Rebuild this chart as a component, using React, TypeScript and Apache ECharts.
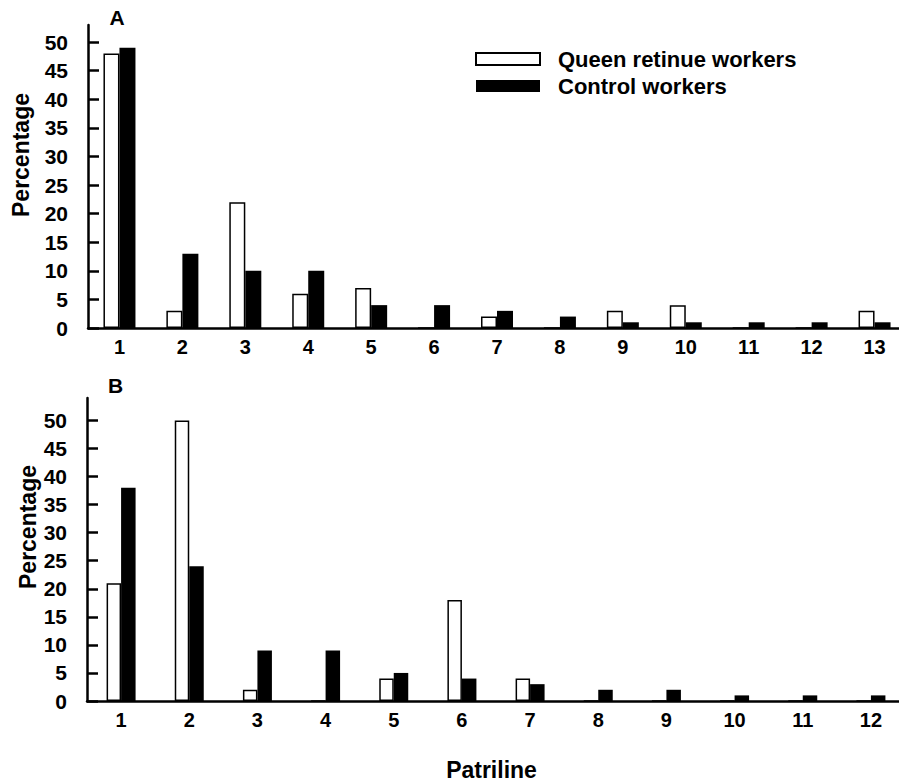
import React, { useEffect, useRef } from "react";
import * as echarts from "echarts";

const categoriesA = ["1", "2", "3", "4", "5", "6", "7", "8", "9", "10", "11", "12", "13"];
const queenA = [48, 3, 22, 6, 7, 0, 2, 0, 3, 4, 0, 0, 3];
const controlA = [49, 13, 10, 10, 4, 4, 3, 2, 1, 1, 1, 1, 1];

const categoriesB = ["1", "2", "3", "4", "5", "6", "7", "8", "9", "10", "11", "12"];
const queenB = [21, 50, 2, 0, 4, 18, 4, 0, 0, 0, 0, 0];
const controlB = [38, 24, 9, 9, 5, 4, 3, 2, 2, 1, 1, 1];

const yTickValues = [0, 5, 10, 15, 20, 25, 30, 35, 40, 45, 50];

const seriesNames = ["Queen retinue workers", "Control workers"];
const panelLabels = ["A", "B"];
const yTitle = "Percentage";
const xTitle = "Patriline";

const FONT = "Liberation Sans, Arial, Helvetica, sans-serif";

export default function App() {
  const ref = useRef<HTMLDivElement>(null);

  useEffect(() => {
    if (!ref.current) return;
    const chart = echarts.init(ref.current, undefined, { renderer: "svg" });

    const axisLine = { show: true, lineStyle: { color: "#000", width: 2.5 } };

    const mkY = (gridIndex: number, max: number) => ({
      type: "value",
      gridIndex,
      min: 0,
      max,
      splitLine: { show: false },
      axisLine,
      axisTick: {
        show: true,
        inside: true,
        length: 11,
        lineStyle: { color: "#000", width: 2.5 },
        customValues: yTickValues,
      },
      axisLabel: {
        show: true,
        customValues: yTickValues,
        color: "#000",
        fontFamily: FONT,
        fontWeight: "bold",
        fontSize: 21,
        margin: 20,
        padding: [6, 0, 0, 0],
      },
    });

    const mkX = (gridIndex: number, data: string[]) => ({
      type: "category",
      gridIndex,
      data,
      axisLine,
      axisTick: { show: false },
      splitLine: { show: false },
      axisLabel: {
        color: "#000",
        fontFamily: FONT,
        fontWeight: "bold",
        fontSize: 20,
        margin: 9,
        interval: 0,
      },
    });

    const whiteStyle = { color: "#fff", borderColor: "#000", borderWidth: 1.5 };
    const blackStyle = { color: "#000", borderColor: "#000", borderWidth: 0 };

    const txt = (text: string, x: number, y: number, size: number, rotation = 0) => ({
      type: "text",
      x,
      y,
      rotation,
      style: {
        text,
        fill: "#000",
        fontFamily: FONT,
        fontWeight: "bold",
        fontSize: size,
        align: "center",
        verticalAlign: "middle",
      },
    });

    const option: any = {
      animation: false,
      backgroundColor: "#fff",
      textStyle: { fontFamily: FONT },
      grid: [
        { left: 88, top: 25, width: 818, height: 303, outerBoundsMode: "none", containLabel: false },
        { left: 87, top: 398, width: 818, height: 303, outerBoundsMode: "none", containLabel: false },
      ],
      xAxis: [mkX(0, categoriesA), mkX(1, categoriesB)],
      yAxis: [mkY(0, 53), mkY(1, 54)],
      legend: {
        orient: "vertical",
        left: 475,
        top: 48,
        padding: 0,
        icon: "rect",
        itemWidth: 64,
        itemHeight: 12,
        itemGap: 5,
        selectedMode: false,
        data: seriesNames,
        textStyle: {
          color: "#000",
          fontFamily: FONT,
          fontWeight: "bold",
          fontSize: 22,
          padding: [0, 0, 0, 13],
        },
      },
      series: [
        {
          name: seriesNames[0],
          type: "bar",
          xAxisIndex: 0,
          yAxisIndex: 0,
          data: queenA,
          barWidth: 16,
          barGap: "0%",
          itemStyle: whiteStyle,
        },
        {
          name: seriesNames[1],
          type: "bar",
          xAxisIndex: 0,
          yAxisIndex: 0,
          data: controlA,
          barWidth: 16,
          barGap: "0%",
          itemStyle: blackStyle,
        },
        {
          name: seriesNames[0],
          type: "bar",
          xAxisIndex: 1,
          yAxisIndex: 1,
          data: queenB,
          barWidth: 14.5,
          barGap: "0%",
          itemStyle: whiteStyle,
        },
        {
          name: seriesNames[1],
          type: "bar",
          xAxisIndex: 1,
          yAxisIndex: 1,
          data: controlB,
          barWidth: 14.5,
          barGap: "0%",
          itemStyle: blackStyle,
        },
      ],
      graphic: [
        txt(panelLabels[0], 117, 17, 21),
        txt(panelLabels[1], 115.5, 385, 21),
        txt(yTitle, 21, 155, 23, Math.PI / 2),
        txt(yTitle, 28, 527, 23, Math.PI / 2),
        txt(xTitle, 491.5, 770, 23),
      ],
    };

    chart.setOption(option);
    return () => chart.dispose();
  }, []);

  return (
    <div
      ref={ref}
      style={{ position: "absolute", left: 0, top: 0, width: 899, height: 784, background: "#fff" }}
    />
  );
}
